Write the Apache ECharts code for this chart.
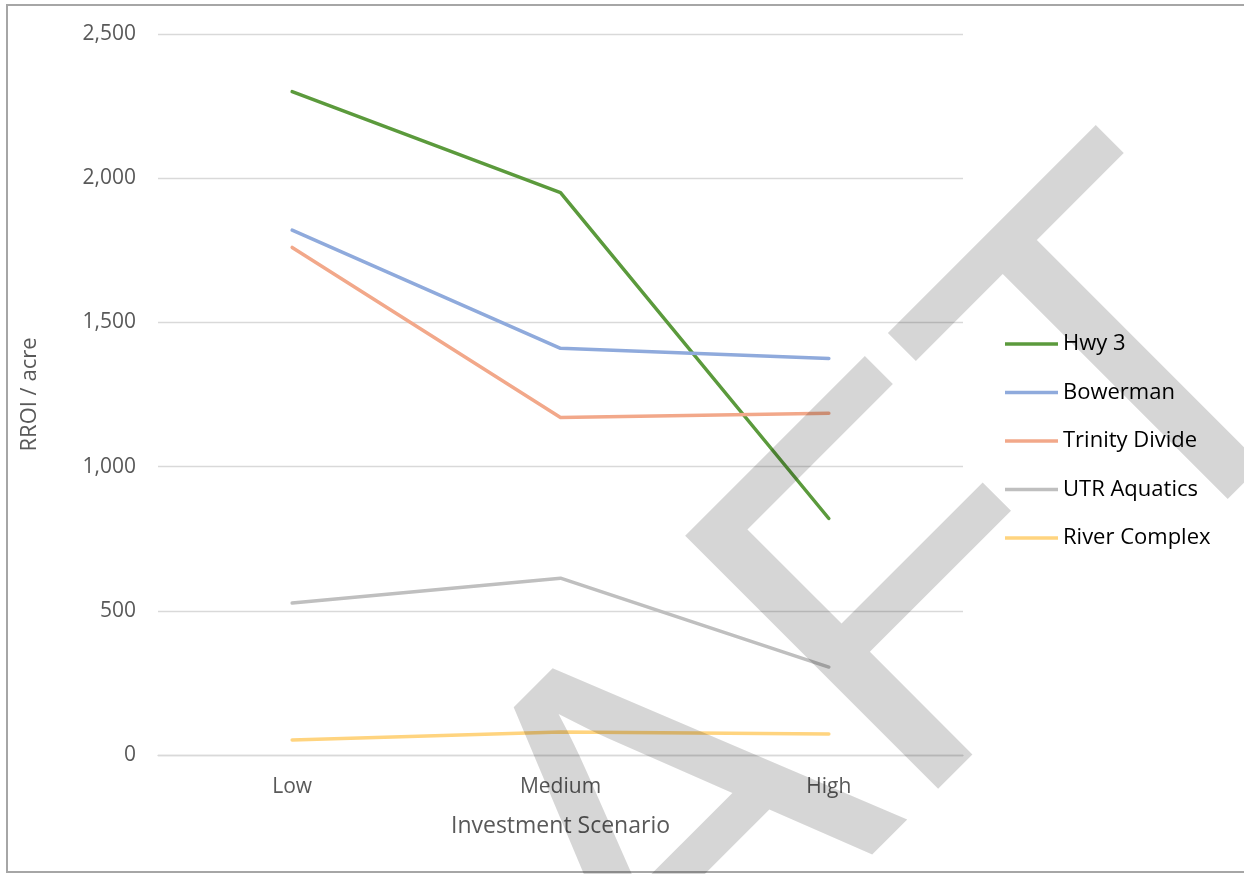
<!DOCTYPE html>
<html>
<head>
<meta charset="utf-8">
<title>RROI per acre by investment scenario</title>
<script src="https://cdn.jsdelivr.net/npm/echarts@6/dist/echarts.min.js"></script>
<style>
  html, body { margin: 0; padding: 0; background: #ffffff; }
  #chart { width: 1244px; height: 874px; }
</style>
</head>
<body>
<div id="chart"></div>
<script>
// Investment scenarios on the x axis
const scenarios = ['Low', 'Medium', 'High'];

// RROI per acre for each project area
const hwy3          = [2300, 1950, 820];
const bowerman      = [1820, 1410, 1375];
const trinityDivide = [1760, 1170, 1185];
const utrAquatics   = [527, 613, 305];
const riverComplex  = [52, 80, 73];

const seriesNames  = ['Hwy 3', 'Bowerman', 'Trinity Divide', 'UTR Aquatics', 'River Complex'];
const seriesValues = [hwy3, bowerman, trinityDivide, utrAquatics, riverComplex];
const seriesColors = ['#5b9a3c', '#8faadc', '#f2a88a', '#bfbfbf', '#ffd47f'];

// Value axis range
const yMin = 0;
const yMax = 2500;
const yStep = 500;

const watermarkText = 'DRAFT';

const chart = echarts.init(document.getElementById('chart'), null, { renderer: 'canvas' });

const labelFont = '"Open Sans", "Noto Sans", sans-serif';

const option = {
  backgroundColor: '#ffffff',
  animation: false,
  grid: { left: 158, right: 281, top: 34, bottom: 119, containLabel: false },
  legend: {
    orient: 'vertical',
    left: 1005,
    top: 331,
    padding: 0,
    icon: 'rect',
    itemWidth: 53,
    itemHeight: 3.5,
    itemGap: 22.5,
    data: seriesNames,
    textStyle: { fontFamily: labelFont, fontSize: 22, color: '#000000', lineHeight: 26 }
  },
  xAxis: {
    type: 'category',
    data: scenarios,
    boundaryGap: true,
    name: 'Investment Scenario',
    nameLocation: 'middle',
    nameGap: 60,
    nameTextStyle: { fontFamily: labelFont, fontSize: 23, color: '#595959' },
    axisLine: { show: true, lineStyle: { color: '#d9d9d9', width: 1.3 } },
    axisTick: { show: false },
    axisLabel: { fontFamily: labelFont, fontSize: 21, color: '#595959', margin: 22 },
    splitLine: { show: false }
  },
  yAxis: {
    type: 'value',
    min: yMin,
    max: yMax,
    interval: yStep,
    name: 'RROI / acre',
    nameLocation: 'middle',
    nameGap: 117,
    nameRotate: 90,
    nameTextStyle: { fontFamily: labelFont, fontSize: 22, color: '#595959' },
    axisLine: { show: false },
    axisTick: { show: false },
    axisLabel: {
      fontFamily: labelFont, fontSize: 21, color: '#595959', margin: 22,
      formatter: v => v.toLocaleString('en-US')
    },
    splitLine: { show: true, lineStyle: { color: '#d9d9d9', width: 1.3 } }
  },
  series: seriesNames.map((name, i) => ({
    name: name,
    type: 'line',
    data: seriesValues[i],
    symbol: 'none',
    showSymbol: false,
    smooth: false,
    color: seriesColors[i],
    lineStyle: { color: seriesColors[i], width: 3.5, cap: 'round', join: 'round' },
    z: 3
  })),
  graphic: [
    {
      // outer chart frame
      type: 'rect',
      silent: true,
      z: 1,
      shape: { x: 7, y: 5, width: 1260, height: 867 },
      style: { fill: 'none', stroke: '#a6a6a6', lineWidth: 2 }
    },
    {
      // diagonal watermark laid over the plot
      type: 'text',
      silent: true,
      z: 100,
      x: 643,
      y: 881,
      rotation: Math.PI / 4,
      style: {
        text: watermarkText,
        fontFamily: '"Liberation Sans", Arial, sans-serif',
        fontSize: 520,
        fontWeight: 'normal',
        fill: 'rgba(0,0,0,0.16)',
        align: 'center',
        verticalAlign: 'middle'
      }
    }
  ]
};

chart.setOption(option);
</script>
</body>
</html>
